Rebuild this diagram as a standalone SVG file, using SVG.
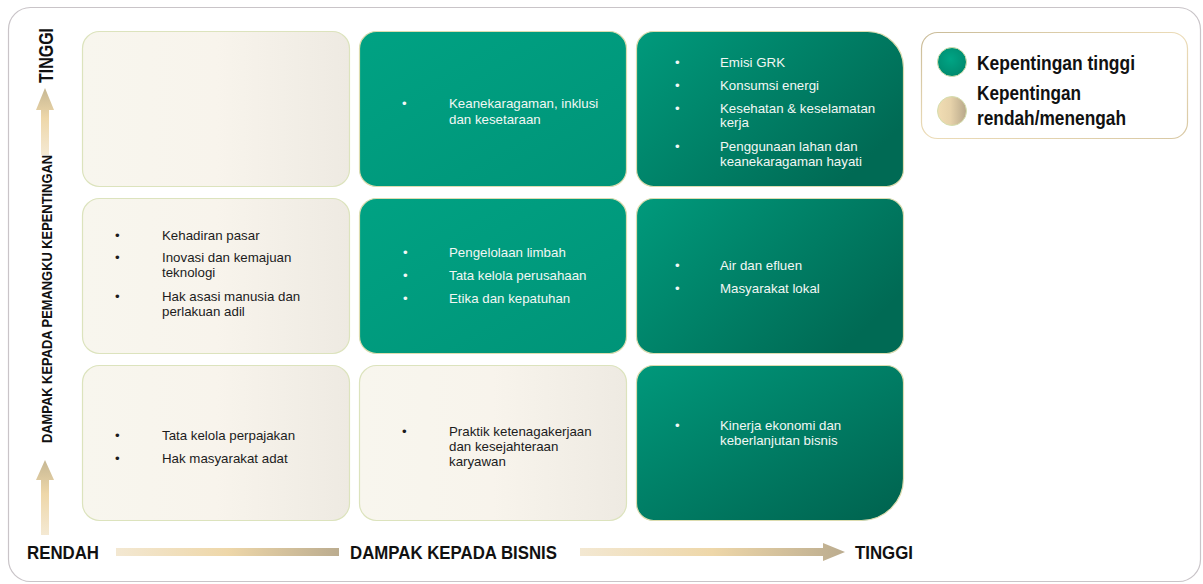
<svg xmlns="http://www.w3.org/2000/svg" width="1203" height="584" viewBox="0 0 1203 584">
  <defs>
    <linearGradient id="gBeige" x1="0" y1="0" x2="1" y2="0">
      <stop offset="0" stop-color="#f8f6ee"/>
      <stop offset="0.5" stop-color="#f8f4ec"/>
      <stop offset="1" stop-color="#eeeae2"/>
    </linearGradient>
    <linearGradient id="gTeal" x1="0" y1="0" x2="1" y2="1">
      <stop offset="0" stop-color="#00a283"/>
      <stop offset="1" stop-color="#009478"/>
    </linearGradient>
    <linearGradient id="gDeep" x1="0" y1="0" x2="1" y2="0.6">
      <stop offset="0" stop-color="#009a7c"/>
      <stop offset="1" stop-color="#006a54"/>
    </linearGradient>
    <linearGradient id="gDeepDiag" x1="0" y1="0" x2="1" y2="1">
      <stop offset="0" stop-color="#00987b"/>
      <stop offset="1" stop-color="#00624e"/>
    </linearGradient>
    <linearGradient id="gArrowUp" x1="0" y1="1" x2="0" y2="0">
      <stop offset="0" stop-color="#f4e9d3"/>
      <stop offset="0.55" stop-color="#eed7a9"/>
      <stop offset="1" stop-color="#c6b793"/>
    </linearGradient>
    <linearGradient id="gArrowRight" x1="0" y1="0" x2="1" y2="0">
      <stop offset="0" stop-color="#f3e8d2"/>
      <stop offset="0.5" stop-color="#eed7a9"/>
      <stop offset="1" stop-color="#bbac8f"/>
    </linearGradient>
    <linearGradient id="gLegendTan" x1="0" y1="0" x2="1" y2="0">
      <stop offset="0" stop-color="#f1ddb3"/>
      <stop offset="0.45" stop-color="#e6d2aa"/>
      <stop offset="1" stop-color="#b7a78a"/>
    </linearGradient>
    <radialGradient id="gLegendGreen" cx="0.45" cy="0.4" r="0.6">
      <stop offset="0" stop-color="#00a585"/>
      <stop offset="1" stop-color="#008a6e"/>
    </radialGradient>
    <linearGradient id="gLegendFrame" x1="0" y1="0" x2="1" y2="1">
      <stop offset="0" stop-color="#c9bb98"/>
      <stop offset="0.5" stop-color="#ecdcb8"/>
      <stop offset="1" stop-color="#d8c8a4"/>
    </linearGradient>
    <style>
      .cell-low { fill: url(#gBeige); stroke: #dce3bd; stroke-width: 1.2; }
      .cell-high { stroke: #dcdcb0; stroke-width: 1.2; }
      .txt { font-family: "Liberation Sans Narrow", "Liberation Sans", Arial, sans-serif; font-size: 13.3px; }
      .dark { fill: #1c1c1c; }
      .light { fill: #f2f7f4; }
      .axis { font-family: "Liberation Sans Narrow", "Liberation Sans", Arial, sans-serif; font-weight: bold; fill: #111111; }
      .legend { font-family: "Liberation Sans Narrow", "Liberation Sans", Arial, sans-serif; font-weight: bold; font-size: 21px; fill: #111111; }
    </style>
  </defs>

  <!-- outer frame -->
  <rect x="8.5" y="7.5" width="1192" height="574" rx="22" fill="#ffffff" stroke="#c9c4c8" stroke-width="1.2"/>

  <!-- row 1 -->
  <g id="cell-low-high">
    <rect class="cell-low" x="82.5" y="31.5" width="267" height="155" rx="17"/>
  </g>
  <g id="cell-mid-high">
    <rect class="cell-high" fill="url(#gTeal)" x="359.5" y="31.5" width="267" height="155" rx="17"/>
    <text class="txt light" x="402" y="108">•</text>
    <text class="txt light" x="449" y="108">Keanekaragaman, inklusi</text>
    <text class="txt light" x="449" y="124">dan kesetaraan</text>
  </g>
  <g id="cell-high-high">
    <path class="cell-high" fill="url(#gDeep)" d="M653.5 31.5 H867.5 A36 36 0 0 1 903.5 67.5 V169.5 A17 17 0 0 1 886.5 186.5 H653.5 A17 17 0 0 1 636.5 169.5 V48.5 A17 17 0 0 1 653.5 31.5 Z"/>
    <text class="txt light" x="675" y="67">•</text>
    <text class="txt light" x="720" y="67">Emisi GRK</text>
    <text class="txt light" x="675" y="90">•</text>
    <text class="txt light" x="720" y="90">Konsumsi energi</text>
    <text class="txt light" x="675" y="113">•</text>
    <text class="txt light" x="720" y="113">Kesehatan &amp; keselamatan</text>
    <text class="txt light" x="720" y="127">kerja</text>
    <text class="txt light" x="675" y="151">•</text>
    <text class="txt light" x="720" y="151">Penggunaan lahan dan</text>
    <text class="txt light" x="720" y="166">keanekaragaman hayati</text>
  </g>

  <!-- row 2 -->
  <g id="cell-low-mid">
    <rect class="cell-low" x="82.5" y="198.5" width="267" height="155" rx="17"/>
    <text class="txt dark" x="115" y="240">•</text>
    <text class="txt dark" x="162" y="240">Kehadiran pasar</text>
    <text class="txt dark" x="115" y="262">•</text>
    <text class="txt dark" x="162" y="262">Inovasi dan kemajuan</text>
    <text class="txt dark" x="162" y="277">teknologi</text>
    <text class="txt dark" x="115" y="301">•</text>
    <text class="txt dark" x="162" y="301">Hak asasi manusia dan</text>
    <text class="txt dark" x="162" y="316">perlakuan adil</text>
  </g>
  <g id="cell-mid-mid">
    <rect class="cell-high" fill="url(#gTeal)" x="359.5" y="198.5" width="267" height="155" rx="17"/>
    <text class="txt light" x="403" y="257">•</text>
    <text class="txt light" x="449" y="257">Pengelolaan limbah</text>
    <text class="txt light" x="403" y="280">•</text>
    <text class="txt light" x="449" y="280">Tata kelola perusahaan</text>
    <text class="txt light" x="403" y="303">•</text>
    <text class="txt light" x="449" y="303">Etika dan kepatuhan</text>
  </g>
  <g id="cell-high-mid">
    <rect class="cell-high" fill="url(#gDeep)" x="636.5" y="198.5" width="267" height="155" rx="17"/>
    <text class="txt light" x="675" y="270">•</text>
    <text class="txt light" x="720" y="270">Air dan efluen</text>
    <text class="txt light" x="675" y="293">•</text>
    <text class="txt light" x="720" y="293">Masyarakat lokal</text>
  </g>

  <!-- row 3 -->
  <g id="cell-low-low">
    <rect class="cell-low" x="82.5" y="365.5" width="267" height="155" rx="17"/>
    <text class="txt dark" x="115" y="440">•</text>
    <text class="txt dark" x="162" y="440">Tata kelola perpajakan</text>
    <text class="txt dark" x="115" y="463">•</text>
    <text class="txt dark" x="162" y="463">Hak masyarakat adat</text>
  </g>
  <g id="cell-mid-low">
    <rect class="cell-low" x="359.5" y="365.5" width="267" height="155" rx="17"/>
    <text class="txt dark" x="402" y="436">•</text>
    <text class="txt dark" x="449" y="436">Praktik ketenagakerjaan</text>
    <text class="txt dark" x="449" y="451">dan kesejahteraan</text>
    <text class="txt dark" x="449" y="466">karyawan</text>
  </g>
  <g id="cell-high-low">
    <path class="cell-high" fill="url(#gDeepDiag)" d="M653.5 365.5 H886.5 A17 17 0 0 1 903.5 382.5 V478.5 A42 42 0 0 1 861.5 520.5 H653.5 A17 17 0 0 1 636.5 503.5 V382.5 A17 17 0 0 1 653.5 365.5 Z"/>
    <text class="txt light" x="675" y="430">•</text>
    <text class="txt light" x="720" y="430">Kinerja ekonomi dan</text>
    <text class="txt light" x="720" y="445">keberlanjutan bisnis</text>
  </g>

  <!-- legend -->
  <g id="legend">
    <rect x="921.5" y="32.5" width="266" height="106" rx="16" fill="#ffffff" stroke="url(#gLegendFrame)" stroke-width="1.2"/>
    <circle cx="952" cy="62" r="14.5" fill="url(#gLegendGreen)" stroke="#d5deae" stroke-width="1"/>
    <text class="legend" x="977" y="70" textLength="158" lengthAdjust="spacingAndGlyphs">Kepentingan tinggi</text>
    <circle cx="952" cy="111" r="14.5" fill="url(#gLegendTan)" stroke="#d5deae" stroke-width="1"/>
    <text class="legend" x="977" y="100" textLength="104" lengthAdjust="spacingAndGlyphs">Kepentingan</text>
    <text class="legend" x="977" y="125" textLength="149" lengthAdjust="spacingAndGlyphs">rendah/menengah</text>
  </g>

  <!-- axes -->
  <g id="axes">
    <path d="M41 155 V110 H36 L45 88 L54 110 H49 V155 Z" fill="url(#gArrowUp)"/>
    <path d="M41 535 V480 H36 L45 460 L54 480 H49 V535 Z" fill="url(#gArrowUp)"/>
    <rect x="116" y="548" width="223" height="8" fill="url(#gArrowRight)"/>
    <path d="M580 548 H823 V543 L845 552 L823 561 V556 H580 Z" fill="url(#gArrowRight)"/>
    <text class="axis" font-size="20" transform="translate(53 83) rotate(-90)" textLength="55" lengthAdjust="spacingAndGlyphs">TINGGI</text>
    <text class="axis" font-size="14" transform="translate(52 443) rotate(-90)" textLength="288" lengthAdjust="spacingAndGlyphs">DAMPAK KEPADA PEMANGKU KEPENTINGAN</text>
    <text class="axis" font-size="18.5" x="27" y="559" textLength="72" lengthAdjust="spacingAndGlyphs">RENDAH</text>
    <text class="axis" font-size="18.5" x="350" y="559" textLength="207" lengthAdjust="spacingAndGlyphs">DAMPAK KEPADA BISNIS</text>
    <text class="axis" font-size="18.5" x="855" y="559" textLength="58" lengthAdjust="spacingAndGlyphs">TINGGI</text>
  </g>
</svg>
